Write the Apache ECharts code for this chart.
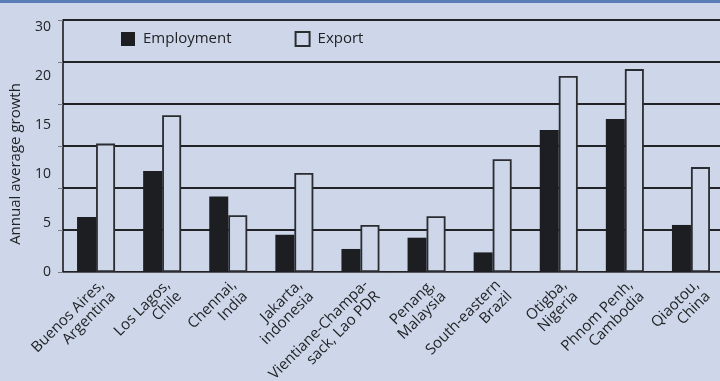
<!DOCTYPE html>
<html>
<head>
<meta charset="utf-8">
<script src="https://cdn.jsdelivr.net/npm/echarts@6/dist/echarts.min.js"></script>
<style>
  html, body { margin: 0; padding: 0; background: #cdd7e9; }
  #chart { width: 720px; height: 381px; }
  #strip { position: absolute; left: 0; top: 0; width: 720px; height: 3px; background: #5a7db8; }
</style>
</head>
<body>
<div id="chart"></div>
<div id="strip"></div>
<script>
// values, in the units of the printed tick labels
const categories = [
  'Buenos Aires,\nArgentina',
  'Los Lagos,\nChile',
  'Chennai,\nIndia',
  'Jakarta,\nindonesia',
  'Vientiane-Champa-\nsack, Lao PDR',
  'Penang,\nMalaysia',
  'South-eastern\nBrazil',
  'Otigba,\nNigeria',
  'Phnom Penh,\nCambodia',
  'Qiaotou,\nChina'
];
const employment = [5.6, 10.3, 7.7, 3.8, 2.35, 3.5, 2.0, 14.5, 15.6, 4.8];
const exportGrowth = [13.1, 16.0, 5.8, 10.1, 4.8, 5.7, 11.5, 20.0, 20.7, 10.7];
// the printed labels skip 25 and are not spaced like the grid lines
const yTickLabels = ['0', '5', '10', '15', '20', '30'];

const BG = '#cdd7e9';
const INK = '#222326';
const FONT = '"Open Sans", sans-serif';

const chart = echarts.init(document.getElementById('chart'));

chart.setOption({
  backgroundColor: BG,
  animation: false,
  textStyle: { fontFamily: FONT },
  grid: { left: 63, top: 20, bottom: 109, width: 661, outerBoundsMode: 'none', containLabel: false },
  legend: {
    left: 121,
    top: 31,
    padding: 0,
    itemWidth: 14,
    itemHeight: 14,
    itemGap: 63,
    icon: 'rect',
    textStyle: { fontSize: 15, color: INK, fontFamily: FONT, padding: [0, 0, 0, 3] },
    data: ['Employment', 'Export']
  },
  xAxis: {
    type: 'category',
    data: categories,
    axisLine: { lineStyle: { color: '#55575c', width: 1 } },
    axisTick: { length: 5, lineStyle: { color: '#7a7c82' } },
    axisLabel: {
      interval: 0,
      rotate: 45,
      margin: 5,
      fontSize: 15,
      lineHeight: 16,
      color: INK,
      verticalAlign: 'top',
      fontFamily: FONT
    }
  },
  yAxis: [
    {
      // grid lines: six equal bands
      type: 'value',
      min: 0,
      max: 30,
      interval: 5,
      axisLine: { show: true, lineStyle: { color: '#111', width: 1.5 } },
      axisTick: { show: true, length: 5, lineStyle: { color: '#7a7c82' } },
      axisLabel: { show: false },
      splitLine: { lineStyle: { color: INK, width: 2 } }
    },
    {
      // printed scale the bars are read against
      type: 'value',
      position: 'left',
      min: 0,
      max: 25.71,
      interval: 5,
      axisLine: { show: false },
      axisTick: { show: false },
      splitLine: { show: false },
      axisLabel: {
        margin: 12,
        fontSize: 14,
        color: INK,
        showMaxLabel: false,
        fontFamily: FONT,
        formatter: (v) => yTickLabels[Math.round(v / 5)] || ''
      },
      name: 'Annual average growth',
      nameLocation: 'middle',
      nameGap: 40,
      nameTextStyle: { fontSize: 15, color: INK, fontFamily: FONT, padding: [0, 36, 0, 0] }
    }
  ],
  series: [
    {
      name: 'Employment',
      type: 'bar',
      yAxisIndex: 1,
      data: employment,
      barWidth: 19,
      barGap: '0%',
      itemStyle: { color: '#1d1e22' }
    },
    {
      name: 'Export',
      type: 'bar',
      yAxisIndex: 1,
      data: exportGrowth,
      barWidth: 19,
      barGap: '0%',
      itemStyle: { color: BG, borderColor: '#2b2c30', borderWidth: 1.8 }
    }
  ]
});
</script>
</body>
</html>
